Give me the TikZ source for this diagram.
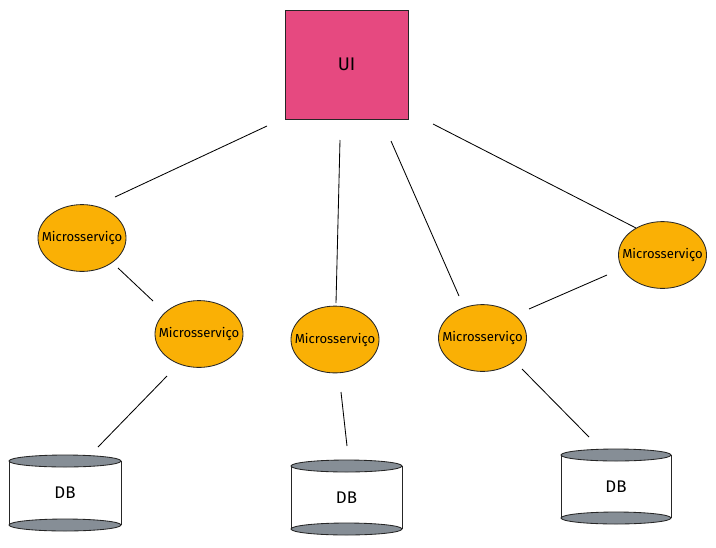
\documentclass[tikz,border=0pt]{standalone}
\usepackage{fontspec}
\setmainfont{Fira Sans}
\usetikzlibrary{shapes.geometric}
\definecolor{uipink}{RGB}{230,73,128}
\definecolor{msorange}{RGB}{250,176,5}
\definecolor{dbgray}{RGB}{134,142,150}
\tikzset{
  px/.style={x=0.025cm,y=-0.025cm},
  uibox/.style={draw=black!85,fill=uipink,line width=0.6pt,minimum width=3.075cm,minimum height=2.725cm,inner sep=0pt,font=\fontsize{13}{15}\selectfont},
  msnode/.style={draw=black!85,fill=msorange,ellipse,line width=0.6pt,minimum width=2.2cm,minimum height=1.67cm,inner sep=0pt,
    label={[inner sep=0pt,font=\fontsize{9.3}{11}\selectfont]center:Microsserviço}},
  conn/.style={draw=black,line width=0.6pt},
  dbcap/.style={draw=black!85,fill=dbgray,line width=0.6pt},
  dbbody/.style={draw=black!85,fill=white,line width=0.6pt},
  dblabel/.style={font=\fontsize{12}{14}\selectfont,inner sep=0pt}
}
\newcommand{\dbcyl}[5]{% name, cx, top y, bottom y, half width
  \fill[white] (#2-#5,#3) rectangle (#2+#5,#4);
  \draw[dbbody,fill=none] (#2-#5,#3) -- (#2-#5,#4);
  \draw[dbbody,fill=none] (#2+#5,#3) -- (#2+#5,#4);
  \draw[dbcap] (#2,#4) ellipse [x radius=#5, y radius=6];
  \draw[dbcap] (#2,#3) ellipse [x radius=#5, y radius=6];
  \node[dblabel] (#1) at (#2,{(#3+#4)/2}) {DB};
}
\begin{document}
\begin{tikzpicture}[px]
\useasboundingbox (0,0) rectangle (716,547);
\node[uibox] (ui) at (346.5,64.5) {UI};
\node[msnode] (m1) at (82,238) {};
\node[msnode] (m2) at (199,334) {};
\node[msnode] (m3) at (335,339.5) {};
\node[msnode] (m4) at (482.5,338) {};
\node[msnode] (m5) at (662.5,255) {};
\dbcyl{db1}{65}{461}{525}{56}
\dbcyl{db2}{346.5}{466}{529}{55.5}
\dbcyl{db3}{616}{455}{518}{55}
% connector end points
\coordinate (a1) at (267,126); \coordinate (b1) at (115,197);
\coordinate (a2) at (340,140); \coordinate (b2) at (336,303);
\coordinate (a3) at (391,141); \coordinate (b3) at (459,296);
\coordinate (a4) at (433,124); \coordinate (b4) at (636,228);
\coordinate (a5) at (118,268); \coordinate (b5) at (153,301);
\coordinate (a6) at (607,275); \coordinate (b6) at (529,309);
\coordinate (a7) at (167,376); \coordinate (b7) at (98,447);
\coordinate (a8) at (341,392); \coordinate (b8) at (347,446);
\coordinate (a9) at (522,369); \coordinate (b9) at (589,437);
\foreach \i in {1,...,9} \draw[conn] (a\i) -- (b\i);
\end{tikzpicture}
\end{document}
